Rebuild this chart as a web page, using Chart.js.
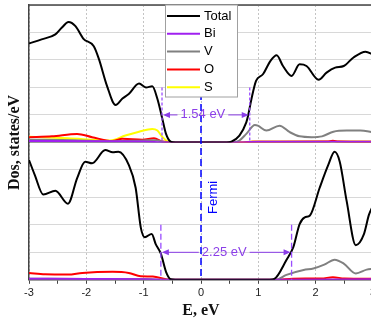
<!DOCTYPE html>
<html>
<head>
<meta charset="utf-8">
<script src="https://cdn.jsdelivr.net/npm/chart.js@4.4.1/dist/chart.umd.min.js"></script>
<style>
body { margin: 0; overflow: hidden; background: #fff; }
#wrap { position: absolute; left: 0; top: 0; width: 400px; height: 321px; }
</style>
</head>
<body>
<div id="wrap"><canvas id="dosChart"></canvas></div>
<script>
// upper panel (energy in eV, DOS in states/eV)
const topTotalE = [-3, -2.78, -2.54, -2.43, -2.31, -2.19, -2.05, -1.87, -1.78, -1.64, -1.49, -1.37, -1.26, -1.08, -0.96, -0.85, -0.76, -0.68, -0.61, -0.53, -0.45, 0.45, 0.53, 0.67, 0.79, 0.82, 0.88, 0.96, 1.08, 1.21, 1.32, 1.43, 1.58, 1.72, 1.84, 2.05, 2.19, 2.34, 2.49, 2.66, 2.87, 3];
const topTotal = [3.6, 3.75, 3.93, 4.17, 4.38, 4.23, 3.77, 3.5, 3.03, 2.06, 1.36, 1.6, 1.76, 2.14, 2.0, 2.04, 1.58, 0.91, 0.31, 0.03, 0, 0, 0.03, 0.25, 0.73, 0.96, 1.58, 2.24, 2.48, 2.96, 3.17, 2.78, 2.42, 2.84, 2.78, 2.28, 2.54, 2.72, 2.78, 3.09, 3.3, 3.2];
const topBiE = [-3, -2, -1, -0.6, 0.6, 1, 2, 3];
const topBi = [0.05, 0.04, 0.03, 0, 0, 0.02, 0.02, 0.02];
const topVE = [-3, -2.2, -1.6, -1.0, -0.8, -0.6, 0.55, 0.67, 0.79, 0.94, 0.99, 1.14, 1.37, 1.55, 1.72, 1.93, 2.11, 2.31, 2.54, 2.78, 3];
const topV = [0.1, 0.08, 0.04, 0.07, 0.08, 0, 0, 0.07, 0.31, 0.63, 0.61, 0.43, 0.61, 0.37, 0.22, 0.19, 0.22, 0.39, 0.43, 0.43, 0.37];
const topOE = [-3, -2.6, -2.16, -1.9, -1.55, -1.37, -1.02, -0.82, -0.67, -0.55, 0.7, 0.9, 2.2, 2.3, 2.4, 3];
const topO = [0.19, 0.22, 0.31, 0.19, 0.05, 0.13, 0.1, 0.15, 0.03, 0, 0, 0.02, 0.03, 0.06, 0.03, 0.02];
const topSE = [-3, -2.32, -1.58, -1.32, -1.08, -0.85, -0.76, -0.67, -0.58, -0.5, 0.7, 0.9, 3];
const topS = [0.21, 0.15, 0.07, 0.25, 0.39, 0.49, 0.43, 0.19, 0.03, 0, 0, 0.03, 0.03];

// lower panel
const botTotalE = [-3, -2.9, -2.75, -2.54, -2.32, -2.16, -2.02, -1.9, -1.67, -1.54, -1.44, -1.26, -1.14, -1.05, -0.98, -0.86, -0.79, -0.7, -0.61, -0.53, -0.45, 1.2, 1.28, 1.49, 1.61, 1.72, 1.81, 1.9, 2.07, 2.22, 2.33, 2.42, 2.54, 2.7, 2.84, 2.93, 3];
const botTotal = [4.36, 3.82, 3.1, 3.24, 2.77, 3.7, 4.3, 4.24, 4.72, 4.64, 4.66, 4.18, 3.35, 1.9, 1.55, 1.67, 1.3, 0.95, 0.29, 0.02, 0, 0, 0.03, 0.72, 1.19, 2.03, 2.27, 2.34, 3.35, 4.18, 4.66, 4.3, 2.87, 1.26, 1.65, 2.37, 2.7];
const botBiE = [-3, -2, -1, -0.6, 1.3, 3];
const botBi = [0.04, 0.03, 0.02, 0, 0, 0.02];
const botVE = [-3, -2, -1, -0.6, 1.3, 1.49, 1.79, 1.96, 2.15, 2.33, 2.49, 2.7, 2.89, 3];
const botV = [0.04, 0.03, 0.03, 0, 0, 0.18, 0.36, 0.41, 0.55, 0.73, 0.59, 0.23, 0.37, 0.4];
const botOE = [-3, -2.72, -2.32, -2.07, -1.54, -1.26, -1.05, -0.84, -0.61, -0.5, 1.3, 1.6, 2.1, 2.3, 2.5, 3];
const botO = [0.25, 0.2, 0.19, 0.25, 0.29, 0.25, 0.13, 0.12, 0.02, 0, 0, 0.04, 0.05, 0.09, 0.05, 0.04];

const seriesNames = ['Total', 'Bi', 'V', 'O', 'S'];
const seriesColors = ['#000000', '#a020f0', '#808080', '#ff0000', '#ffff00'];
const xTicks = [-3, -2, -1, 0, 1, 2, 3];

// band gap markers
const gapTopE = [-0.68, 0.85];
const gapBotE = [-0.70, 1.58];
const gapLabels = ['1.54 eV', '2.25 eV'];
const fermiE = 0;

function pts(xs, ys) {
	return xs.map((x, i) => ({ x: x, y: ys[i] }));
}

function line(name, xs, ys, axis) {
	return {
		label: name,
		data: pts(xs, ys),
		yAxisID: axis,
		borderColor: seriesColors[seriesNames.indexOf(name)],
		borderWidth: 2,
		pointRadius: 0,
		fill: false,
		cubicInterpolationMode: 'monotone'
	};
}

const sans = '"Liberation Sans", Arial, sans-serif';
const serif = '"Liberation Serif", "Times New Roman", serif';
const purple = '#8b3ee8';

function drawGap(ctx, x, y, e1, e2, text, dash, shift) {
	const xl = x.getPixelForValue(e1);
	const xr = x.getPixelForValue(e2);
	const y0 = y.getPixelForValue(0);
	const y2 = y.getPixelForValue(2);
	const ya = y.getPixelForValue(1);
	ctx.save();
	ctx.strokeStyle = '#9a4dff';
	ctx.lineWidth = 1.3;
	ctx.setLineDash(dash);
	[xl, xr].forEach(px => {
		ctx.beginPath();
		ctx.moveTo(px, y2);
		ctx.lineTo(px, y0);
		ctx.stroke();
	});
	ctx.setLineDash([]);
	ctx.font = '13px ' + sans;
	ctx.fillStyle = purple;
	ctx.textAlign = 'center';
	ctx.textBaseline = 'middle';
	const mid = (xl + xr) / 2 + shift;
	const w = ctx.measureText(text).width;
	ctx.fillText(text, mid, ya);
	ctx.strokeStyle = purple;
	ctx.lineWidth = 1;
	ctx.beginPath();
	ctx.moveTo(mid - w / 2 - 3, ya);
	ctx.lineTo(xl + 5, ya);
	ctx.moveTo(mid + w / 2 + 3, ya);
	ctx.lineTo(xr - 5, ya);
	ctx.stroke();
	ctx.beginPath();
	ctx.moveTo(xl + 1, ya);
	ctx.lineTo(xl + 8, ya - 3);
	ctx.lineTo(xl + 8, ya + 3);
	ctx.closePath();
	ctx.moveTo(xr - 1, ya);
	ctx.lineTo(xr - 8, ya - 3);
	ctx.lineTo(xr - 8, ya + 3);
	ctx.closePath();
	ctx.fill();
	ctx.restore();
}

const decor = {
	id: 'decor',
	afterDraw(chart) {
		const ctx = chart.ctx;
		const a = chart.chartArea;
		const x = chart.scales.x;
		const yTop = chart.scales.yTop;
		const yBot = chart.scales.yBot;

		// frame top line
		ctx.save();
		ctx.strokeStyle = '#444';
		ctx.lineWidth = 1.5;
		ctx.beginPath();
		ctx.moveTo(a.left, a.top);
		ctx.lineTo(a.right, a.top);
		ctx.stroke();

		// Fermi level
		const xf = x.getPixelForValue(fermiE);
		ctx.strokeStyle = '#0000ff';
		ctx.lineWidth = 1.5;
		ctx.setLineDash([7, 4]);
		ctx.beginPath();
		ctx.moveTo(xf, a.top);
		ctx.lineTo(xf, a.bottom);
		ctx.stroke();
		ctx.setLineDash([]);
		ctx.restore();

		drawGap(ctx, x, yTop, gapTopE[0], gapTopE[1], gapLabels[0], [3, 2], -3);
		drawGap(ctx, x, yBot, gapBotE[0], gapBotE[1], gapLabels[1], [6, 3], -2);

		// Fermi label
		ctx.save();
		ctx.translate(xf + 12, yBot.getPixelForValue(3));
		ctx.rotate(-Math.PI / 2);
		ctx.font = '13px ' + sans;
		ctx.fillStyle = '#0000ff';
		ctx.textAlign = 'center';
		ctx.textBaseline = 'middle';
		ctx.fillText('Fermi', 0, 0);
		ctx.restore();

		// legend box
		ctx.save();
		const lx = 165, ly = a.top, lw = 72, lh = 92;
		ctx.fillStyle = '#fff';
		ctx.fillRect(lx, ly, lw, lh);
		ctx.strokeStyle = '#a0a0a0';
		ctx.lineWidth = 1;
		ctx.strokeRect(lx + 0.5, ly, lw, lh);
		ctx.font = '13px ' + sans;
		ctx.textBaseline = 'middle';
		ctx.textAlign = 'left';
		seriesNames.forEach((name, i) => {
			const yy = ly + 11 + i * 17.8;
			ctx.strokeStyle = seriesColors[i];
			ctx.lineWidth = 2;
			ctx.beginPath();
			ctx.moveTo(lx + 2, yy);
			ctx.lineTo(lx + 35, yy);
			ctx.stroke();
			ctx.fillStyle = '#000';
			ctx.fillText(name, lx + 39, yy);
		});
		ctx.restore();

		// y title across both panels
		ctx.save();
		ctx.translate(15, (a.top + a.bottom) / 2);
		ctx.rotate(-Math.PI / 2);
		ctx.font = 'bold 16px ' + serif;
		ctx.fillStyle = '#111';
		ctx.textAlign = 'center';
		ctx.textBaseline = 'middle';
		ctx.fillText('Dos, states/eV', 0, 0);
		ctx.restore();
	}
};

function yAxis(w) {
	return {
		type: 'linear',
		position: 'left',
		stack: 'dos',
		stackWeight: 1,
		weight: w,
		min: 0,
		max: 5,
		ticks: { display: false, stepSize: 1 },
		grid: {
			color: c => c.tick.value === 0 ? '#9a9a9a' : '#d8d8d8',
			drawTicks: false
		},
		border: { color: '#444', width: 1.5 }
	};
}

const ctx = document.getElementById('dosChart');
new Chart(ctx, {
	type: 'line',
	data: {
		datasets: [
			line('Total', topTotalE, topTotal, 'yTop'),
			line('Total', botTotalE, botTotal, 'yBot'),
			line('Bi', topBiE, topBi, 'yTop'),
			line('Bi', botBiE, botBi, 'yBot'),
			line('V', topVE, topV, 'yTop'),
			line('V', botVE, botV, 'yBot'),
			line('O', topOE, topO, 'yTop'),
			line('O', botOE, botO, 'yBot'),
			line('S', topSE, topS, 'yTop')
		]
	},
	options: {
		responsive: true,
		maintainAspectRatio: false,
		animation: false,
		layout: { padding: { left: 29, top: 5, right: 27, bottom: 2 } },
		plugins: { legend: { display: false }, tooltip: { enabled: false } },
		scales: {
			x: {
				type: 'linear',
				min: -3,
				max: 3,
				ticks: {
					stepSize: 0.5,
					autoSkip: false,
					maxRotation: 0,
					padding: 3,
					color: '#222',
					font: { family: sans, size: 11 },
					callback: v => xTicks.includes(v) ? String(v) : ''
				},
				grid: {
					color: c => xTicks.includes(c.tick.value) ? '#c4c4c4' : 'rgba(0,0,0,0)',
					tickColor: '#444',
					tickLength: 4
				},
				border: { color: '#444', width: 1.5, dash: [2, 2] },
				title: {
					display: true,
					text: 'E, eV',
					color: '#111',
					padding: { top: 0, bottom: 0 },
					font: { family: serif, size: 16, weight: 'bold', lineHeight: 1 }
				}
			},
			yBot: yAxis(1),
			yTop: yAxis(2)
		}
	},
	plugins: [decor]
});
</script>
</body>
</html>
